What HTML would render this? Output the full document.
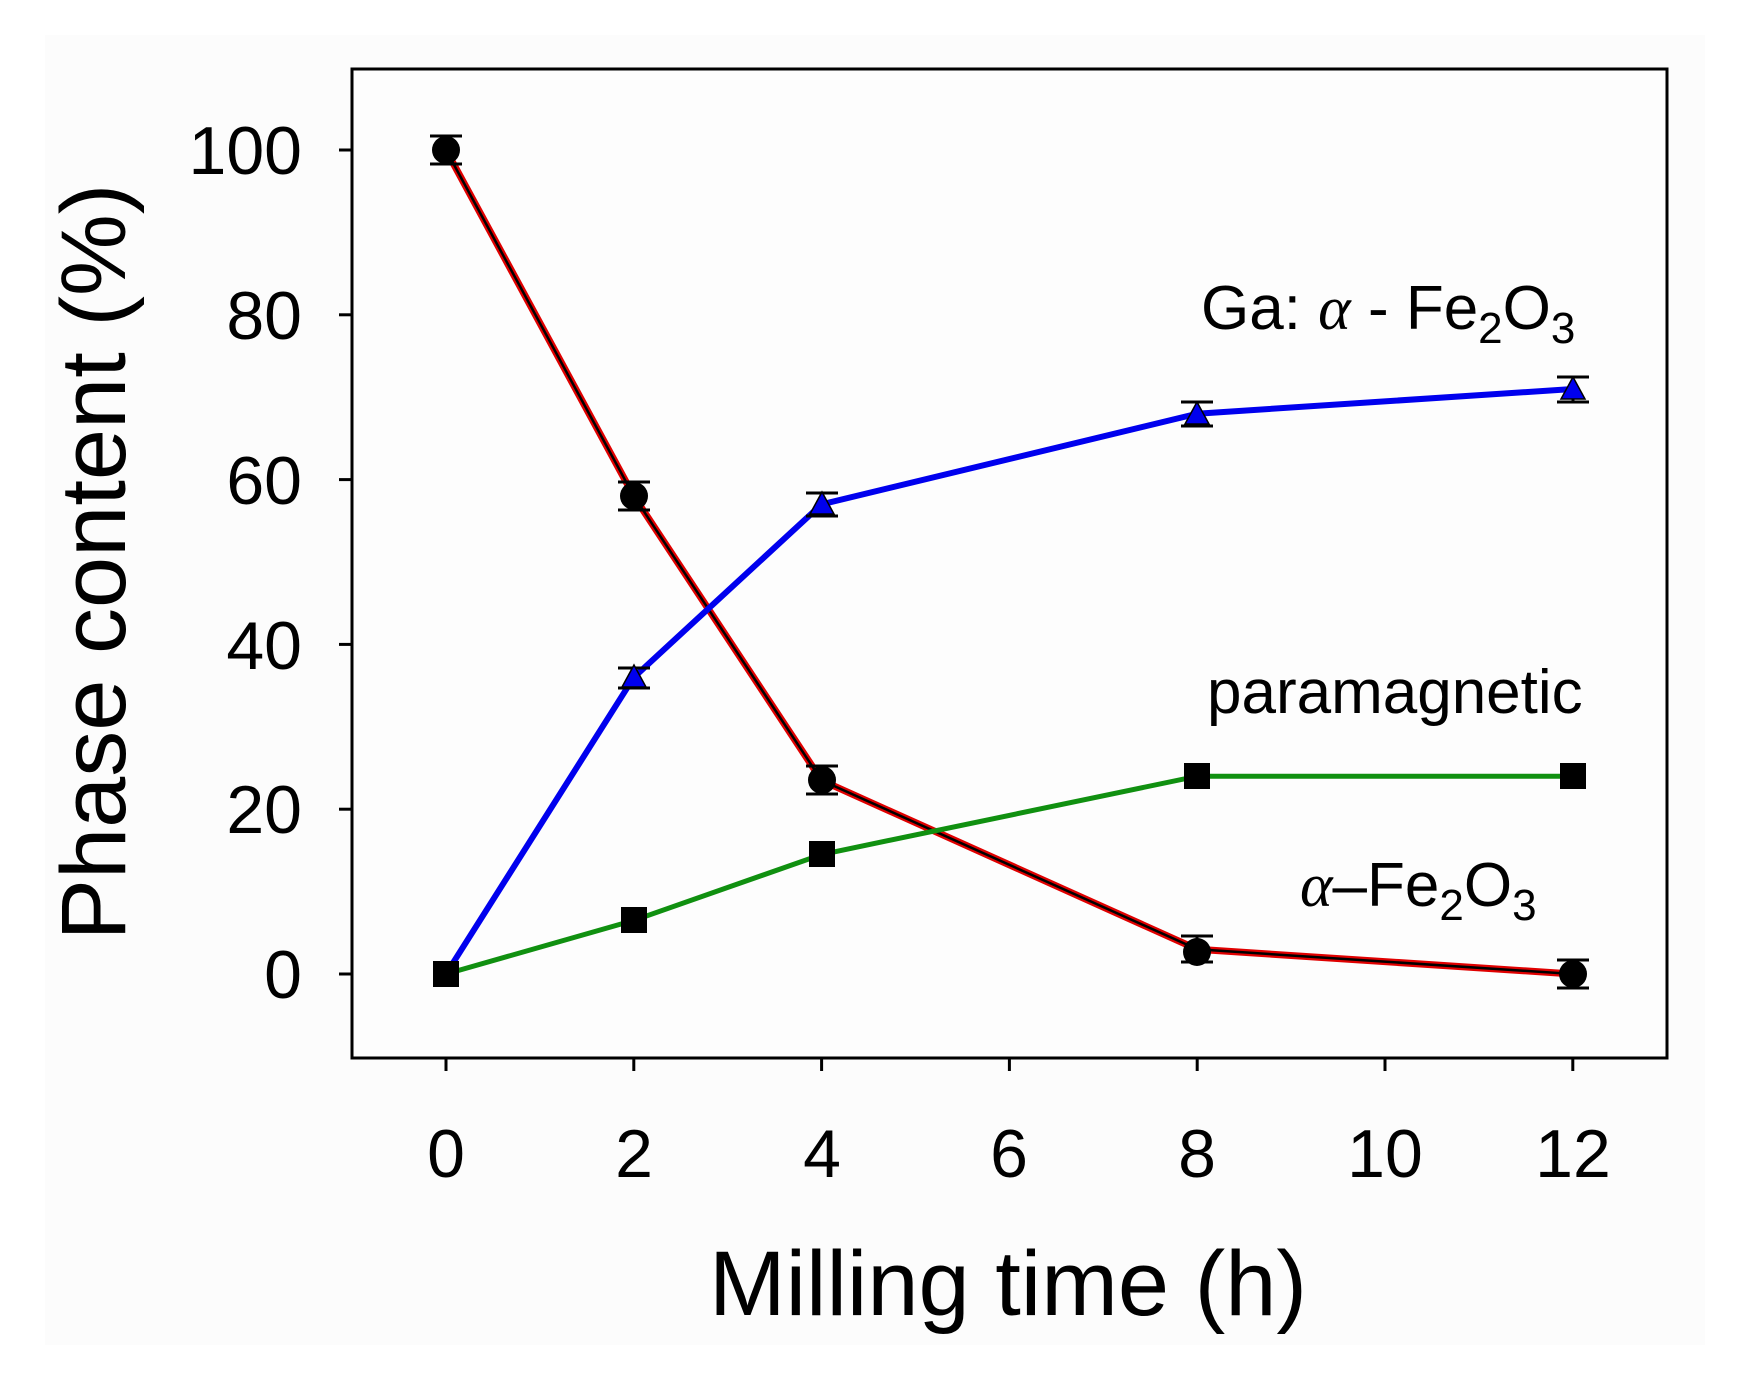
<!DOCTYPE html>
<html><head><style>
html,body{margin:0;padding:0;background:#fff;}
svg{display:block;}
text{font-family:"Liberation Sans",Arial,sans-serif;fill:#000;}
</style></head><body>
<svg width="1745" height="1374" viewBox="0 0 1745 1374" xmlns="http://www.w3.org/2000/svg">
<rect x="0" y="0" width="1745" height="1374" fill="#fff"/>
<rect x="45" y="35" width="1660" height="1310" fill="#fcfcfc"/>
<rect x="352" y="69" width="1315" height="989" fill="#fdfdfd" stroke="#000" stroke-width="3"/>
<g stroke="#000" stroke-width="3">
<line x1="339" y1="150" x2="352" y2="150"/><line x1="339" y1="314.8" x2="352" y2="314.8"/>
<line x1="339" y1="479.6" x2="352" y2="479.6"/><line x1="339" y1="644.4" x2="352" y2="644.4"/>
<line x1="339" y1="809.2" x2="352" y2="809.2"/><line x1="339" y1="974" x2="352" y2="974"/>
<line x1="446" y1="1058" x2="446" y2="1071"/><line x1="633.8" y1="1058" x2="633.8" y2="1071"/>
<line x1="821.6" y1="1058" x2="821.6" y2="1071"/><line x1="1009.4" y1="1058" x2="1009.4" y2="1071"/>
<line x1="1197.2" y1="1058" x2="1197.2" y2="1071"/><line x1="1385" y1="1058" x2="1385" y2="1071"/>
<line x1="1572.8" y1="1058" x2="1572.8" y2="1071"/>
</g>
<g font-size="68" text-anchor="end">
<text x="302" y="174">100</text><text x="302" y="339">80</text><text x="302" y="504">60</text>
<text x="302" y="669">40</text><text x="302" y="833">20</text><text x="302" y="998">0</text>
</g>
<g font-size="68" text-anchor="middle">
<text x="446" y="1177">0</text><text x="634" y="1177">2</text><text x="822" y="1177">4</text>
<text x="1009" y="1177">6</text><text x="1197" y="1177">8</text><text x="1385" y="1177">10</text>
<text x="1573" y="1177">12</text>
</g>
<text x="1008" y="1315" font-size="92" text-anchor="middle">Milling time (h)</text>
<text transform="translate(125,562) rotate(-90)" font-size="92" text-anchor="middle">Phase content (%)</text>
<polyline points="446,150 633.8,496.1 821.6,780.4 1197.2,949.3 1572.8,974" fill="none" stroke="#e00000" stroke-width="7"/>
<polyline points="446,150 633.8,496.1 821.6,780.4 1197.2,949.3 1572.8,974" fill="none" stroke="#000" stroke-width="2.5"/>
<polyline points="446,974 633.8,677.4 821.6,504.3 1197.2,413.7 1572.8,389" fill="none" stroke="#0000ee" stroke-width="6"/>
<polyline points="446,974 633.8,920.4 821.6,854.5 1197.2,776.2 1572.8,776.2" fill="none" stroke="#109010" stroke-width="5"/>
<g stroke="#000" stroke-width="3" fill="none">
<path d="M430,136h32M430,164h32M446,136v28"/>
<path d="M618,482h32M618,510h32M634,482v28"/>
<path d="M806,766h32M806,794h32M822,766v28"/>
<path d="M1181,936h32M1181,962h32M1197,936v26"/>
<path d="M1557,960h32M1557,988h32M1573,960v28"/>
<path d="M618,668h32M618,688h32M634,668v20"/>
<path d="M806,493h32M806,516h32M822,493v23"/>
<path d="M1181,402h32M1181,426h32M1197,402v24"/>
<path d="M1557,377h32M1557,402h32M1573,377v25"/>
</g>
<g fill="#000">
<circle cx="446" cy="150" r="14"/><circle cx="634" cy="496" r="14"/><circle cx="822" cy="780" r="14"/>
<circle cx="1197" cy="952" r="14"/><circle cx="1573" cy="974" r="14"/>
<rect x="433" y="961" width="26" height="26"/><rect x="621" y="907" width="26" height="26"/>
<rect x="809" y="841" width="26" height="26"/><rect x="1184" y="763" width="26" height="26"/>
<rect x="1560" y="763" width="26" height="26"/>
</g>
<g fill="#0000ee" stroke="#000" stroke-width="1.5">
<polygon points="634,665 646,687 622,687"/><polygon points="822,492 834,514 810,514"/>
<polygon points="1197,402 1209,424 1185,424"/><polygon points="1573,377 1585,399 1561,399"/>
</g>
<text x="1201" y="329" font-size="62">Ga: <tspan font-family="'Liberation Serif',serif" font-style="italic">α</tspan> - Fe<tspan font-size="44" dy="14">2</tspan><tspan dy="-14">O</tspan><tspan font-size="44" dy="14">3</tspan></text>
<text x="1207" y="713" font-size="62">paramagnetic</text>
<text x="1300" y="906" font-size="62"><tspan font-family="'Liberation Serif',serif" font-style="italic">α</tspan>–Fe<tspan font-size="44" dy="14">2</tspan><tspan dy="-14">O</tspan><tspan font-size="44" dy="14">3</tspan></text>
</svg>
</body></html>
